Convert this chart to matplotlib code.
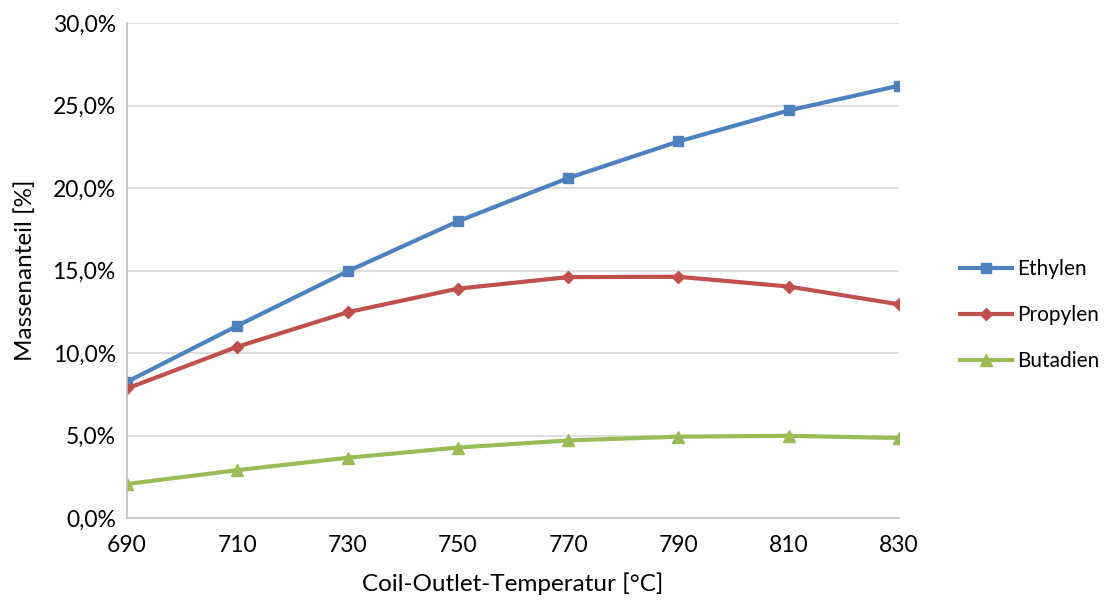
import numpy as np
import matplotlib.pyplot as plt
from matplotlib.ticker import FuncFormatter

# Coil outlet temperatures and mass fractions [%]
temps = [690, 710, 730, 750, 770, 790, 810, 830]
ethylen = [8.25, 11.65, 14.95, 17.98, 20.6, 22.82, 24.7, 26.2]
propylen = [7.85, 10.38, 12.47, 13.9, 14.6, 14.62, 14.03, 12.95]
butadien = [2.06, 2.9, 3.65, 4.27, 4.7, 4.93, 4.98, 4.85]

plt.rcParams['font.family'] = ['Lato', 'DejaVu Sans']

fig = plt.figure(figsize=(11.06, 6.01), dpi=100)
ax = fig.add_axes([0.1148, 0.1381, 0.6980, 0.8236])

ax.plot(temps, ethylen, color='#4F81BD', lw=3, marker='s', ms=7, label='Ethylen')
ax.plot(temps, propylen, color='#C0504D', lw=3, marker='D', ms=6.5, label='Propylen')
ax.plot(temps, butadien, color='#9BBB59', lw=3, marker='^', ms=8, label='Butadien')

ax.set_xlim(690, 830)
ax.set_ylim(0, 30)
ax.set_xticks(np.arange(690, 831, 20))
ax.set_yticks(np.arange(0, 30.1, 5))
ax.yaxis.set_major_formatter(FuncFormatter(lambda v, p: f"{v:.1f}%".replace('.', ',')))
ax.grid(axis='y', color='#D9D9D9', lw=1.2)
ax.set_axisbelow(True)
for s in ['top', 'right']:
    ax.spines[s].set_visible(False)
for s in ['left', 'bottom']:
    ax.spines[s].set_color('#BFBFBF')
    ax.spines[s].set_linewidth(1.2)
ax.tick_params(axis='both', length=0, labelsize=16.5, pad=8, colors='black')
ax.tick_params(axis='x', pad=12)

ax.set_xlabel('Coil-Outlet-Temperatur [°C]', fontsize=17.5, labelpad=12)
ax.set_ylabel('Massenanteil [%]', fontsize=17.5, labelpad=12)

fig.legend(loc='center left', bbox_to_anchor=(0.851, 0.476), frameon=False,
           fontsize=15, handlelength=2.5, labelspacing=1.25, handletextpad=0.25)

fig.savefig('out.png', dpi=100)
